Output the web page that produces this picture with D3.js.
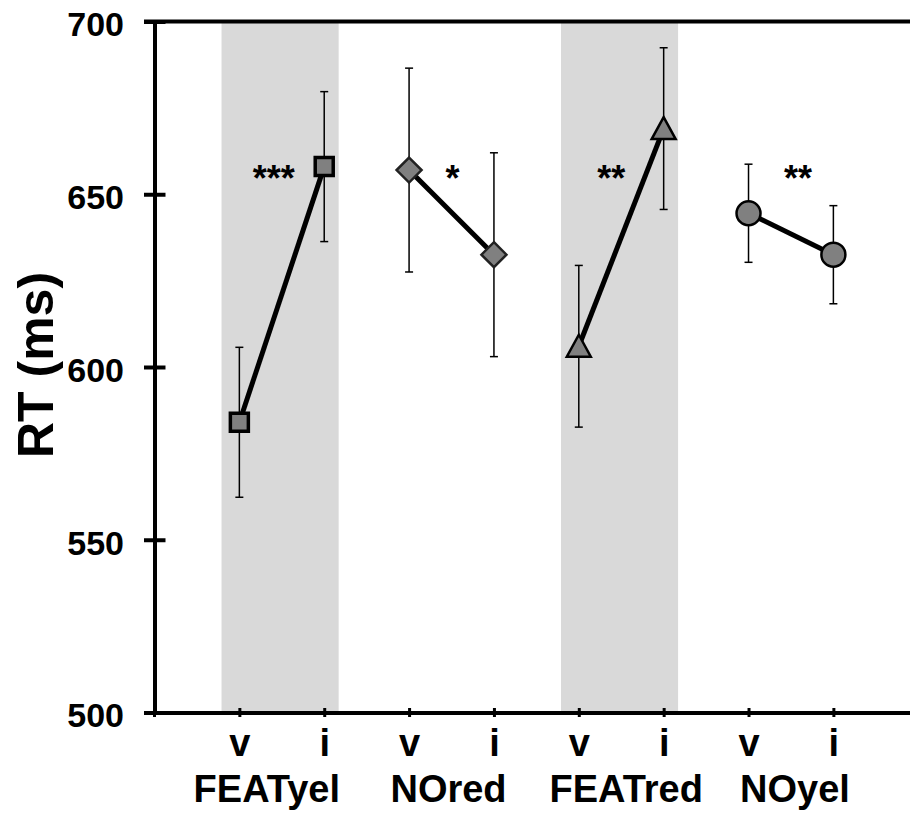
<!DOCTYPE html>
<html>
<head>
<meta charset="utf-8">
<script src="https://cdn.jsdelivr.net/npm/d3@7"></script>
<style>
  body { margin: 0; background: #fff; }
  svg { display: block; font-family: "Liberation Sans", Arial, sans-serif; font-weight: bold; }
</style>
</head>
<body>
<svg id="chart" width="910" height="814"></svg>
<script>
// data
var conditions = ["FEATyel", "NOred", "FEATred", "NOyel"]
var validity = ["v", "i"]
var meanRT = [[584, 658], [657, 632.5], [606, 669], [644.5, 632.5]]
var errRT = [[21.7, 21.7], [29.5, 29.5], [23.4, 23.4], [14.2, 14.2]]
var stars = ["***", "*", "**", "**"]
var shaded = [true, false, true, false]
var markers = ["square", "diamond", "triangle", "circle"]
var yTicks = [500, 550, 600, 650, 700]

// layout tweaks (pixels)
var starShift = [-8, 1, -10, 7]
var labelShift = [-15, -3, 5, 4]

var svg = d3.select("#chart")
var plotTop = 21.5, plotBottom = 712.5, plotLeft = 154.5

var x = d3.scaleLinear().domain([0, 9]).range([plotLeft, plotLeft + 9 * 84.86])
var y = d3.scaleLinear().domain([500, 700]).range([plotBottom, plotTop])

// each condition has a v point then an i point
var points = []
conditions.forEach(function(c, ci) {
    validity.forEach(function(v, vi) {
        points.push({cond: ci, val: v, pos: ci * 2 + vi + 1, m: meanRT[ci][vi], e: errRT[ci][vi]})
    })
})

// shaded bands
svg.append("g").selectAll("rect")
    .data(conditions.filter(function(d, i) { return shaded[i] }))
    .enter().append("rect")
    .attr("x", function(d) { var ci = conditions.indexOf(d); return x(ci * 2 + 1 - 0.21) })
    .attr("width", function(d) { var ci = conditions.indexOf(d); return x(ci * 2 + 2 + 0.17) - x(ci * 2 + 1 - 0.21) })
    .attr("y", plotTop)
    .attr("height", plotBottom - plotTop)
    .attr("fill", "#d9d9d9")

// top border
svg.append("line")
    .attr("x1", plotLeft - 10.5).attr("x2", 910)
    .attr("y1", plotTop).attr("y2", plotTop)
    .attr("stroke", "#000").attr("stroke-width", 4)

// y axis
var yAxis = svg.append("g")
    .attr("transform", "translate(" + plotLeft + ",0)")
    .call(d3.axisLeft(y).tickValues(yTicks).tickSize(10.5).tickSizeOuter(0).tickPadding(30))
yAxis.select(".domain").attr("stroke-width", 4)
yAxis.selectAll(".tick line").attr("x1", 11).attr("stroke-width", 4)
yAxis.selectAll(".tick text")
    .attr("x", -30.5).attr("dy", "0.42em")
    .style("font-size", "34px").style("font-weight", "bold").attr("fill", "#000")

// x axis
var xAxis = svg.append("g")
    .attr("transform", "translate(0," + plotBottom + ")")
    .call(d3.axisBottom(x)
        .tickValues(points.map(function(d) { return d.pos }))
        .tickFormat(function(d, i) { return points[i].val })
        .tickSize(4.5).tickSizeOuter(0))
xAxis.select(".domain").attr("stroke-width", 4)
xAxis.selectAll(".tick line").attr("y1", -4.5).attr("stroke-width", 3)
xAxis.selectAll(".tick text")
    .attr("y", 43.5).attr("dy", 0)
    .style("font-size", "38px").style("font-weight", "bold").attr("fill", "#000")

// tick at the origin
xAxis.append("line")
    .attr("x1", plotLeft).attr("x2", plotLeft).attr("y1", -4.5).attr("y2", 4.5)
    .attr("stroke", "#000").attr("stroke-width", 3)

// condition labels
svg.append("g").selectAll("text")
    .data(conditions)
    .enter().append("text")
    .attr("x", function(d, i) { return x(i * 2 + 1.5) + labelShift[i] })
    .attr("y", 801.5)
    .attr("text-anchor", "middle")
    .style("font-size", "38px")
    .text(function(d) { return d })

// axis title
svg.append("text")
    .attr("transform", "translate(53,365) rotate(-90)")
    .attr("text-anchor", "middle")
    .style("font-size", "50px")
    .text("RT (ms)")

// error bars
var eb = svg.append("g").attr("stroke", "#000").attr("stroke-width", 1.5)
eb.selectAll("line.v").data(points).enter().append("line")
    .attr("class", "v")
    .attr("x1", function(d) { return x(d.pos) }).attr("x2", function(d) { return x(d.pos) })
    .attr("y1", function(d) { return y(d.m - d.e) }).attr("y2", function(d) { return y(d.m + d.e) })
eb.selectAll("line.top").data(points).enter().append("line")
    .attr("class", "top")
    .attr("x1", function(d) { return x(d.pos) - 4 }).attr("x2", function(d) { return x(d.pos) + 4 })
    .attr("y1", function(d) { return y(d.m + d.e) }).attr("y2", function(d) { return y(d.m + d.e) })
eb.selectAll("line.bot").data(points).enter().append("line")
    .attr("class", "bot")
    .attr("x1", function(d) { return x(d.pos) - 4 }).attr("x2", function(d) { return x(d.pos) + 4 })
    .attr("y1", function(d) { return y(d.m - d.e) }).attr("y2", function(d) { return y(d.m - d.e) })

// connecting lines
var line = d3.line().x(function(d) { return x(d.pos) }).y(function(d) { return y(d.m) })
svg.append("g").selectAll("path")
    .data(conditions.map(function(c, ci) { return points.filter(function(p) { return p.cond === ci }) }))
    .enter().append("path")
    .attr("d", line)
    .attr("fill", "none")
    .attr("stroke", "#000")
    .attr("stroke-width", 5)

// markers
var symbolPath = {
    square: d3.symbol().type(d3.symbolSquare).size(18 * 18)(),
    diamond: "M0,-12.5L12.5,0L0,12.5L-12.5,0Z",
    triangle: "M0,-11.5L12,10.5L-12,10.5Z",
    circle: d3.symbol().type(d3.symbolCircle).size(Math.PI * 12 * 12)()
}
var strokeW = {square: 3.5, diamond: 2.5, triangle: 2.5, circle: 2.5}
svg.append("g").selectAll("path")
    .data(points)
    .enter().append("path")
    .attr("transform", function(d) { return "translate(" + x(d.pos) + "," + y(d.m) + ")" })
    .attr("d", function(d) { return symbolPath[markers[d.cond]] })
    .attr("fill", "#808080")
    .attr("stroke", function(d) { return markers[d.cond] === "diamond" ? "#222" : "#000" })
    .attr("stroke-width", function(d) { return strokeW[markers[d.cond]] })
    .attr("stroke-linejoin", "miter")

// significance stars
svg.append("g").selectAll("text")
    .data(stars)
    .enter().append("text")
    .attr("x", function(d, i) { return x(i * 2 + 1.5) + starShift[i] })
    .attr("y", 190.5)
    .attr("text-anchor", "middle")
    .style("font-size", "36px")
    .text(function(d) { return d })
</script>
</body>
</html>
